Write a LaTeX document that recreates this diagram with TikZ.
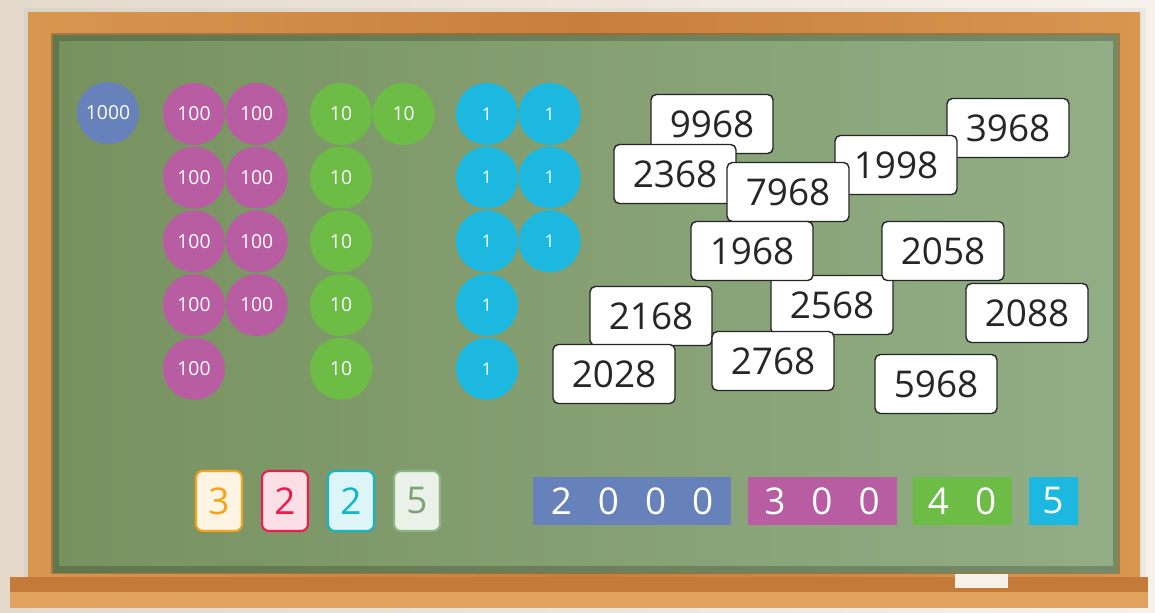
\documentclass[tikz,border=0pt]{standalone}
\usepackage{fontspec}
\setmainfont{Open Sans}
\usetikzlibrary{positioning, backgrounds, calc}
\usepackage{xcolor}

\definecolor{wallleft}{HTML}{E4D9CB}
\definecolor{wallright}{HTML}{F6F1EA}
\definecolor{framebrown}{HTML}{C97F3C}
\definecolor{framelight}{HTML}{D8964F}
\definecolor{ledgelight}{HTML}{E0A25D}
\definecolor{ledgedark}{HTML}{C47A38}
\definecolor{boardleft}{HTML}{77915F}
\definecolor{boardright}{HTML}{93AE86}
\definecolor{thousandblue}{HTML}{6781BA}
\definecolor{hundredpink}{HTML}{B95DA3}
\definecolor{tengreen}{HTML}{6CBC45}
\definecolor{onecyan}{HTML}{1DB8E0}
\definecolor{cardorange}{HTML}{F7A21B}
\definecolor{cardred}{HTML}{EC1C4B}
\definecolor{cardcyan}{HTML}{13B5C8}
\definecolor{cardsage}{HTML}{8DB382}

\newcommand{\gapd}{\hspace{0.52cm}}

\begin{document}
\begin{tikzpicture}[
    x=0.02cm, y=-0.02cm,
    node distance=0.02cm and 0cm,
    chip/.style={circle, minimum size=1.24cm, inner sep=0pt, text=white, font=\fontsize{11}{13}\selectfont},
    thousand/.style={chip, fill=thousandblue},
    hundred/.style={chip, fill=hundredpink},
    ten/.style={chip, fill=tengreen},
    one/.style={chip, fill=onecyan, font=\fontsize{10}{12}\selectfont},
    card/.style={rectangle, rounded corners=3pt, draw=black!85, thick, fill=white, text=black!85, minimum width=2.44cm, minimum height=1.18cm, inner sep=0pt, font=\fontsize{21}{25}\selectfont},
    digitcard/.style={rectangle, rounded corners=4pt, line width=1.2pt, minimum width=0.92cm, minimum height=1.2cm, inner sep=0pt, font=\fontsize{21}{25}\selectfont},
    bar/.style={rectangle, minimum height=0.96cm, inner sep=0pt, text=white, font=\fontsize{21}{25}\selectfont}
]
    \useasboundingbox (0,0) rectangle (1155,612);
    % wall, frame and board
    \shade[left color=wallleft, right color=wallright] (0,0) rectangle (1155,612);
    \fill[black!30, opacity=0.15] (24,8) rectangle (1146,598);
    \shade[left color=framelight, right color=framelight, middle color=framebrown] (28,12) rectangle (1140,590);
    \shade[left color=boardleft, right color=boardright] (53,35) rectangle (1118,572);
    \draw[black!60!boardleft, line width=4pt, opacity=0.3] (55,37) rectangle (1116,570);
    \fill[ledgedark] (10,577) rectangle (1148,592);
    \fill[ledgelight] (10,592) rectangle (1148,608);
    \fill[white!88!brown] (955,574) rectangle (1008,588);

    % counting chips
    \node[thousand] (th1) at (108,113) {1000};

    \node[hundred] (h11) at (194,114) {100};
    \node[hundred] (h12) [right=of h11] {100};
    \node[hundred] (h21) [below=of h11] {100};
    \node[hundred] (h22) [below=of h12] {100};
    \node[hundred] (h31) [below=of h21] {100};
    \node[hundred] (h32) [below=of h22] {100};
    \node[hundred] (h41) [below=of h31] {100};
    \node[hundred] (h42) [below=of h32] {100};
    \node[hundred] (h51) [below=of h41] {100};

    \node[ten] (t11) at (341,114) {10};
    \node[ten] (t12) [right=of t11] {10};
    \node[ten] (t21) [below=of t11] {10};
    \node[ten] (t31) [below=of t21] {10};
    \node[ten] (t41) [below=of t31] {10};
    \node[ten] (t51) [below=of t41] {10};

    \node[one] (o11) at (487,114) {1};
    \node[one] (o12) [right=of o11] {1};
    \node[one] (o21) [below=of o11] {1};
    \node[one] (o22) [below=of o12] {1};
    \node[one] (o31) [below=of o21] {1};
    \node[one] (o32) [below=of o22] {1};
    \node[one] (o41) [below=of o31] {1};
    \node[one] (o51) [below=of o41] {1};

    % number cards
    \node[card] (n9968) at (712,124) {9968};
    \node[card] (n3968) at (1008,128) {3968};
    \node[card] (n1998) at (896,165) {1998};
    \node[card] (n2368) at (675,174) {2368};
    \node[card] (n7968) at (788,192) {7968};
    \node[card] (n2568) at (832,305) {2568};
    \node[card] (n1968) at (752,251) {1968};
    \node[card] (n2058) at (943,251) {2058};
    \node[card] (n2168) at (651,316) {2168};
    \node[card] (n2028) at (614,374) {2028};
    \node[card] (n2768) at (773,361) {2768};
    \node[card] (n2088) at (1027,313) {2088};
    \node[card] (n5968) at (936,384) {5968};

    % digit cards
    \node[digitcard, draw=cardorange, fill=cardorange!12, text=cardorange] (d3) at (219,501) {3};
    \node[digitcard, draw=cardred, fill=cardred!14, text=cardred] (d2a) at (285,501) {2};
    \node[digitcard, draw=cardcyan, fill=cardcyan!14, text=cardcyan] (d2b) at (351,501) {2};
    \node[digitcard, draw=cardsage, fill=cardsage!18, text=cardsage!90!black] (d5) at (417,501) {5};

    % expanded form
    \node[bar, fill=thousandblue, minimum width=3.96cm] (b2000) at (632,501) {2\gapd 0\gapd 0\gapd 0};
    \node[bar, fill=hundredpink, minimum width=2.98cm] (b300) at (822,501) {3\gapd 0\gapd 0};
    \node[bar, fill=tengreen, minimum width=1.98cm] (b40) at (962,501) {4\gapd 0};
    \node[bar, fill=onecyan, minimum width=0.98cm] (b5) at (1053,501) {5};
\end{tikzpicture}
\end{document}
